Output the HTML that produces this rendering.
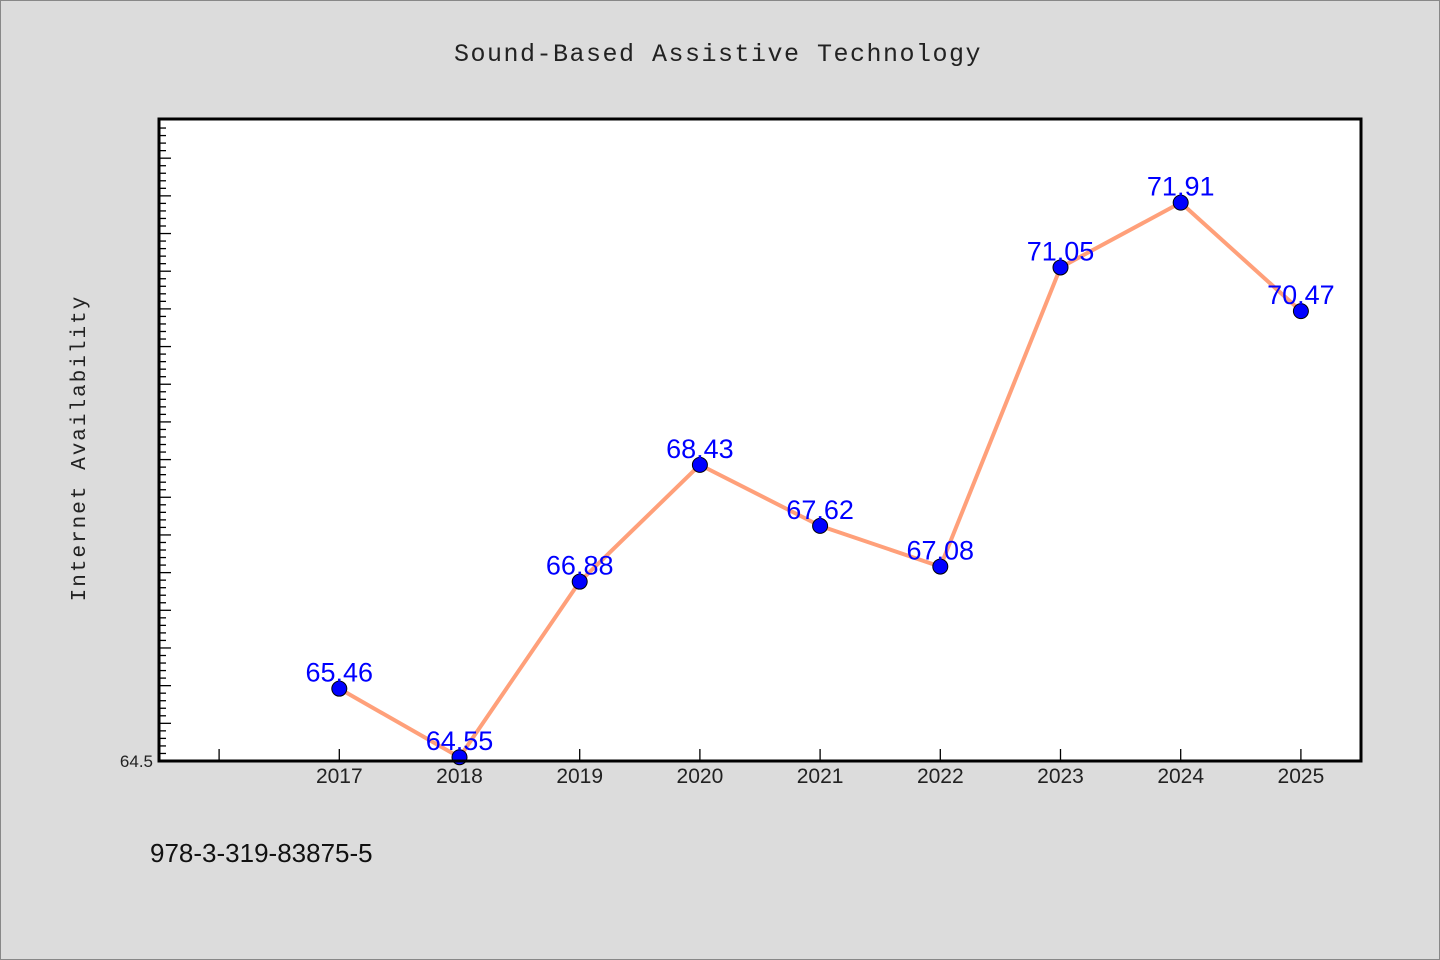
<!DOCTYPE html>
<html><head><meta charset="utf-8"><style>
html,body{margin:0;padding:0;background:#dcdcdc;}
svg{display:block;}
</style></head><body>
<svg id="chart" width="1440" height="960" xmlns="http://www.w3.org/2000/svg">
<rect x="0.5" y="0.5" width="1439" height="959" fill="#dcdcdc" stroke="#888"/>
<text x="718" y="61" text-anchor="middle" font-family="'WenQuanYi Zen Hei','Liberation Mono',monospace" font-size="25" letter-spacing="1.5" fill="#222">Sound-Based Assistive Technology</text>
<text transform="translate(85,448) rotate(-90)" text-anchor="middle" font-family="'WenQuanYi Zen Hei','Liberation Mono',monospace" font-size="21" letter-spacing="2" fill="#222">Internet Availability</text>
<text x="150" y="862" font-family="'WenQuanYi Zen Hei','Liberation Sans',sans-serif" font-size="26" fill="#111">978-3-319-83875-5</text>
<rect x="159" y="119" width="1202" height="642" fill="#fff" stroke="none"/>
<g id="ticks"></g>
<g id="series"></g>
<rect x="159" y="119" width="1202" height="642" fill="none" stroke="#000" stroke-width="3"/>
</svg>
<script>
const years = [2017,2018,2019,2020,2021,2022,2023,2024,2025];
const values = [65.46,64.55,66.88,68.43,67.62,67.08,71.05,71.91,70.47];
const valueLabels = ["65.46","64.55","66.88","68.43","67.62","67.08","71.05","71.91","70.47"];
const yMin = 64.5, yMax = 73.02;
const xMin = 2015.5, xMax = 2025.5;
const L=159,R=1361,T=119,B=761;
const xs = v => L + (v - xMin)/(xMax - xMin)*(R-L);
const ys = v => B - (v - yMin)/(yMax - yMin)*(B-T);
const NS="http://www.w3.org/2000/svg";
function mk(tag, attrs, parent){const e=document.createElementNS(NS,tag);for(const k in attrs)e.setAttribute(k,attrs[k]);parent.appendChild(e);return e;}
const tg=document.getElementById('ticks'), sg=document.getElementById('series');
for(let i=0;i<=85;i++){
  const v=yMin+i*0.1; const y=ys(v); if(y<T+3) break;
  const long=(i%5===0);
  const t=mk('line',{x1:L,x2:L+(long?12:7),y1:y,y2:y,stroke:'#000','stroke-width':1.3},tg);
  
  
}
const yl=mk('text',{x:153,y:B+6,'text-anchor':'end','font-family':"'WenQuanYi Zen Hei','Liberation Sans',sans-serif",'font-size':17,fill:'#222'},tg);
yl.textContent='64.5';


const xt=[2016].concat(years);
xt.forEach(yr=>{
  const x=xs(yr);
  const t=mk('line',{x1:x,x2:x,y1:B,y2:B-12,stroke:'#000','stroke-width':1.3},tg);
  
  
  if(yr!==2016){
    const l=mk('text',{x:x,y:B+22,'text-anchor':'middle','font-family':"'WenQuanYi Zen Hei','Liberation Sans',sans-serif",'font-size':21,fill:'#222'},tg);
    l.textContent=String(yr);
    
    
  }
});
const pts=years.map((yr,i)=>xs(yr)+','+ys(values[i])).join(' ');
const line=mk('polyline',{points:pts,fill:'none',stroke:'#ffa07a','stroke-width':4,'stroke-linejoin':'round'},sg);


years.forEach((yr,i)=>{
  const c=mk('circle',{cx:xs(yr),cy:ys(values[i]),r:7.5,fill:'#0000ff',stroke:'#000','stroke-width':1},sg);
  
  
});
years.forEach((yr,i)=>{
  const t=mk('text',{x:xs(yr),y:ys(values[i])-7,'text-anchor':'middle','font-family':"'WenQuanYi Zen Hei','Liberation Sans',sans-serif",'font-size':27,fill:'#0000ff'},sg);
  t.textContent=valueLabels[i];
  
  
});
</script>
</body></html>
